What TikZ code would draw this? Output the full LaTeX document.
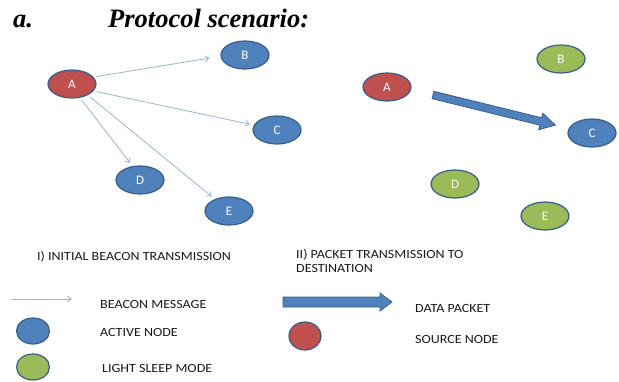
\documentclass[tikz,border=0pt]{standalone}
\usepackage{fontspec}
\setmainfont{Liberation Serif}
\newfontfamily\labelfont[FakeStretch=1.12]{Carlito}
\newfontfamily\letterfont{Carlito}
\usetikzlibrary{shapes.geometric,arrows.meta}

\definecolor{nodeblue}{HTML}{4F81BD}
\definecolor{nodegreen}{HTML}{9BBB59}
\definecolor{nodered}{HTML}{C0504D}
\definecolor{rimblue}{HTML}{385D8A}
\definecolor{beaconblue}{HTML}{95B3D7}

\tikzset{
  wsn/.style={ellipse, draw=rimblue, line width=1.2pt, minimum width=48pt,
    minimum height=28pt, inner sep=0pt, text=white,
    font=\letterfont\fontsize{13}{14}\selectfont},
  active/.style={wsn, fill=nodeblue},
  sleeping/.style={wsn, fill=nodegreen},
  source/.style={wsn, fill=nodered},
  beacon/.style={draw=beaconblue, line width=0.8pt,
    -{Straight Barb[length=4pt,width=6pt]}, shorten <=3pt, shorten >=4pt},
  packet/.style={fill=nodeblue, draw=rimblue, line width=0.8pt},
  caption/.style={anchor=west, inner sep=0pt, align=left,
    font=\labelfont\fontsize{12.5}{14.5}\selectfont, text=black!90},
  heading/.style={anchor=base west, inner sep=0pt,
    font=\bfseries\itshape\fontsize{26.5}{29}\selectfont},
}

\begin{document}
\begin{tikzpicture}[x=1pt, y=-1pt]
\useasboundingbox (0,0) rectangle (619,381);

% heading
\node[heading] (tag) at (13,27) {a.};
\node[heading] (title) at (108,27) {Protocol scenario:};

% I) initial beacon transmission
\node[source] (A1) at (72,84) {A};
\node[active] (B1) at (245,55) {B};
\node[active] (C1) at (277,130) {C};
\node[active] (D1) at (140,180) {D};
\node[active] (E1) at (229,211) {E};

\draw[beacon, shorten >=11pt] (A1.18) -- (B1.183);
\draw[beacon] (A1.-18) -- (C1.168);
\draw[beacon] (A1.-60) -- (D1.118);
\draw[beacon] (A1.-35) -- (E1.140);

% II) packet transmission to destination
\node[source]   (A2) at (387,87) {A};
\node[sleeping] (B2) at (561,59) {B};
\node[active]   (C2) at (592,133) {C};
\node[sleeping] (D2) at (455,184) {D};
\node[sleeping] (E2) at (545,216) {E};

\begin{scope}[shift={(433,95)}, rotate=-13.8]
  \filldraw[packet] (0,-3.8) -- (111,-3.8) -- (111,-8.5) -- (126,0)
    -- (111,8.5) -- (111,3.8) -- (0,3.8) -- cycle;
\end{scope}

% panel captions
\node[caption] (cap1) at (37,257) {I) INITIAL BEACON TRANSMISSION};
\node[caption] (cap2) at (296,261) {II) PACKET TRANSMISSION TO\\DESTINATION};

% legend
\coordinate (lb1) at (12,299);
\coordinate (lb2) at (72,299);
\draw[beacon, shorten <=0pt, shorten >=0pt] (lb1) -- (lb2);
\node[caption] (lbeacon) at (100,304) {BEACON MESSAGE};

\node[active, minimum width=33pt, minimum height=26pt] (lactive) at (33,331) {};
\node[caption] (lactivet) at (100,332) {ACTIVE NODE};

\node[sleeping, minimum width=33pt, minimum height=26pt] (lsleep) at (33,367) {};
\node[caption] (lsleept) at (102,368) {LIGHT SLEEP MODE};

\filldraw[packet] (283,297) -- (380,297) -- (380,293) -- (392,302)
  -- (380,311) -- (380,307) -- (283,307) -- cycle;
\node[caption] (ldata) at (415,308) {DATA PACKET};

\node[source, minimum width=32pt, minimum height=28pt] (lsource) at (305,336) {};
\node[caption] (lsourcet) at (415,339) {SOURCE NODE};
\end{tikzpicture}
\end{document}
